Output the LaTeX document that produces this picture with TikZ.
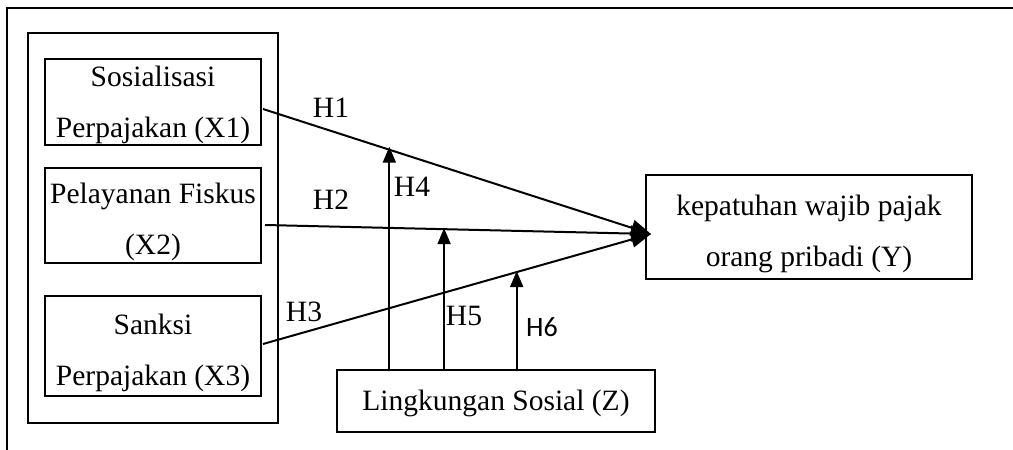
\documentclass[tikz,border=0pt]{standalone}
\usepackage{fontspec}
\setmainfont{Liberation Serif}
\newfontfamily\labelsans{Carlito}
\usetikzlibrary{arrows.meta,calc}
\begin{document}
\begin{tikzpicture}[x=1pt,y=-1pt,
  line width=2pt,
  every node/.style={font=\fontsize{29.5}{51}\selectfont},
  box/.style={draw,line width=2pt,inner sep=0pt},
  boxtext/.style={align=center,inner sep=0pt},
  hlabel/.style={inner sep=0pt},
  path arrow/.style={-{Triangle[length=20pt,width=16pt]}},
  mod arrow/.style={-{Triangle[length=16pt,width=13pt]}}]
\useasboundingbox (0,0) rectangle (1013,450);

% open outer frame
\draw (1013,8) -- (7,8) -- (7,450);

% group of independent variables
\node[box,minimum width=250pt,minimum height=390pt] (grp) at (153,228) {};
\node[box,minimum width=216pt,minimum height=86pt] (x1) at (153,102) {};
\node[box,minimum width=216pt,minimum height=95pt] (x2) at (153,215.5) {};
\node[box,minimum width=216pt,minimum height=100pt] (x3) at (153,346) {};
\node[boxtext] (x1t) at (153,105) {Sosialisasi\\Perpajakan (X1)};
\node[boxtext] (x2t) at (153,222) {Pelayanan Fiskus\\(X2)};
\node[boxtext] (x3t) at (153,352.5) {Sanksi\\Perpajakan (X3)};

% dependent and moderating variables
\node[box,minimum width=326pt,minimum height=104pt] (y) at (809,227) {};
\node[boxtext] (yt) at (809,233.5) {kepatuhan wajib pajak\\orang pribadi (Y)};
\node[box,minimum width=318pt,minimum height=62pt] (z) at (496,401) {};
\node[boxtext] (zt) at (496,403) {Lingkungan Sosial (Z)};

% path start and end points
\coordinate (s1) at ($(x1.east)+(1,7)$);
\coordinate (s2) at ($(x2.east)+(3,9.5)$);
\coordinate (s3) at ($(x3.east)+(1,-2)$);
\coordinate (t) at ($(y.west)+(6,7)$);

% direct effects
\draw[path arrow] (s1) -- (t) coordinate[pos=0.325641] (m1);
\draw[path arrow] (s2) -- (t) coordinate[pos=0.463918] (m2);
\draw[path arrow] (s3) -- (t) coordinate[pos=0.653846] (m3);

% moderating effects
\draw[mod arrow] (z.north -| m1) -- ($(m1)+(0,-3)$);
\draw[mod arrow] (z.north -| m2) -- ($(m2)+(0,-1)$);
\draw[mod arrow] (z.north -| m3) -- ($(m3)+(0,-1)$);

% hypothesis labels
\node[hlabel] (h1) at (331,108) {H1};
\node[hlabel] (h2) at (331,200) {H2};
\node[hlabel] (h3) at (304,312) {H3};
\node[hlabel] (h4) at (412,187) {H4};
\node[hlabel] (h5) at (464,316) {H5};
\node[hlabel,font=\labelsans\fontsize{28}{34}\selectfont] (h6) at (542,327) {H6};
\end{tikzpicture}
\end{document}
